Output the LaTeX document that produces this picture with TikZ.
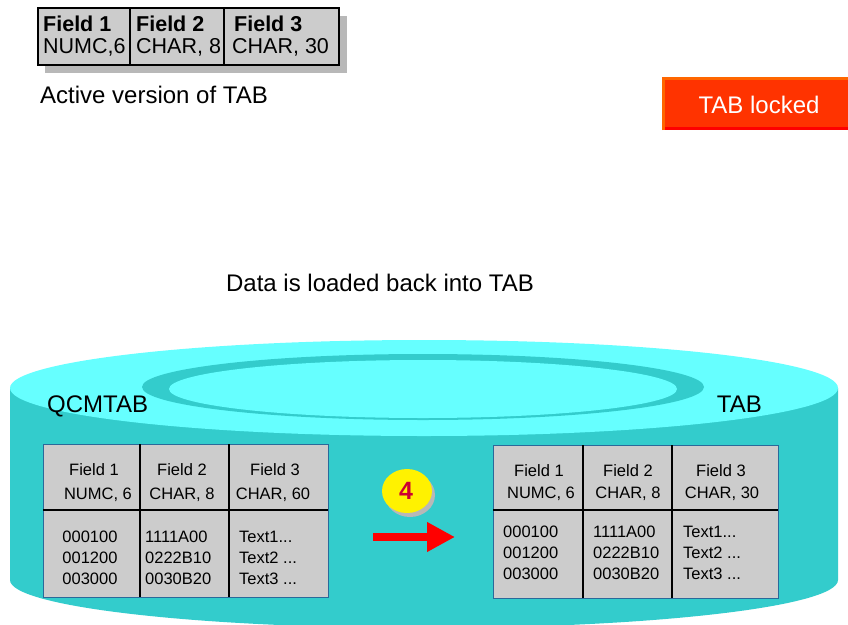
\documentclass[tikz,border=0pt]{standalone}
\usepackage{fontspec}
\setmainfont{Liberation Sans}
\usetikzlibrary{arrows.meta}

\definecolor{cyanlight}{HTML}{66FFFF}
\definecolor{cyandark}{HTML}{33CCCC}
\definecolor{cellgray}{HTML}{CCCCCC}
\definecolor{shadowgray}{HTML}{B8B8B8}
\definecolor{tableedge}{HTML}{2A6A9A}
\definecolor{lockfill}{HTML}{FF3300}
\definecolor{lockedge}{HTML}{FF6600}
\definecolor{stepnum}{HTML}{CC0033}

\tikzset{
  cellc/.style={font=\fontsize{16.5}{19}\selectfont, inner sep=0pt, anchor=base},
  celll/.style={font=\fontsize{16.5}{19}\selectfont, inner sep=0pt, anchor=base west},
  headtxt/.style={font=\fontsize{21.5}{25}\selectfont, inner sep=0pt, anchor=base west},
  bigtxt/.style={font=\fontsize{24}{28}\selectfont, inner sep=0pt},
  tablebox/.style={draw=tableedge, line width=1.2pt, fill=cellgray, anchor=north west,
                   inner sep=0pt, minimum width=285pt, minimum height=153pt},
  divider/.style={draw=black, line width=1.2pt},
}

\begin{document}
\begin{tikzpicture}[x=1pt, y=-1pt]
\useasboundingbox (0,0) rectangle (848,624);
\fill[white] (0,0) rectangle (848,624);

% ---- active table definition (top left) ----
\fill[shadowgray] (45,16) rectangle (347,73);
\node[draw=black, line width=1.5pt, fill=cellgray, anchor=north west, inner sep=0pt,
      minimum width=301pt, minimum height=57pt] (activetab) at (37,7) {};
\draw[divider] (130,7) -- (130,64);
\draw[divider] (224,7) -- (224,64);
\node[headtxt] (a1h) at (43,31) {\bfseries Field 1};
\node[headtxt] (a1t) at (43,53) {NUMC,6};
\node[headtxt] (a2h) at (136,31) {\bfseries Field 2};
\node[headtxt] (a2t) at (136,53) {CHAR, 8};
\node[headtxt] (a3h) at (234,31) {\bfseries Field 3};
\node[headtxt] (a3t) at (232,53) {CHAR, 30};
\node[bigtxt, anchor=base west] (activecap) at (40,103) {Active version of TAB};

% ---- lock indicator ----
\node[fill=lockfill, anchor=north west, inner sep=0pt, minimum width=186pt,
      minimum height=53pt] (lock) at (662,77) {};
\draw[lockedge, line width=3pt] (663.5,130) -- (663.5,78.5) -- (848,78.5);
\draw[red, line width=3pt] (665,128.5) -- (848,128.5);
\node[bigtxt, text=white] (locktxt) at (759,105) {TAB locked};

% ---- caption ----
\node[bigtxt, anchor=base] (loadcap) at (380,291) {Data is loaded back into TAB};

% ---- database cylinder ----
\fill[cyandark] (10,388) -- (10,580) arc[start angle=180, end angle=0, x radius=414, y radius=48]
                -- (838,388) -- cycle;
\fill[cyanlight] (424,388) ellipse[x radius=414, y radius=48];
\fill[cyandark] (423,387) ellipse[x radius=281, y radius=33];
\fill[cyanlight] (423,389) ellipse[x radius=254, y radius=29];

\node[bigtxt, anchor=base west] (qname) at (47,412) {QCMTAB};
\node[bigtxt, anchor=base east] (tname) at (762,412) {TAB};

% ---- QCMTAB contents ----
\node[tablebox] (qtab) at (43,444) {};
\draw[divider] (140,444) -- (140,597);
\draw[divider] (229,444) -- (229,597);
\draw[divider] (43,510) -- (328,510);
\node[cellc] (q1h) at (94,475) {Field 1};
\node[cellc] (q1t) at (98,499) {NUMC, 6};
\node[cellc] (q2h) at (182,475) {Field 2};
\node[cellc] (q2t) at (182,499) {CHAR, 8};
\node[cellc] (q3h) at (275,475) {Field 3};
\node[cellc] (q3t) at (273,499) {CHAR, 60};
\node[cellc] (q1a) at (90,542) {000100};
\node[cellc] (q1b) at (90,563) {001200};
\node[cellc] (q1c) at (90,584) {003000};
\node[celll] (q2a) at (145,542) {1111A00};
\node[celll] (q2b) at (145,563) {0222B10};
\node[celll] (q2c) at (145,584) {0030B20};
\node[celll] (q3a) at (239,542) {Text1...};
\node[celll] (q3b) at (239,563) {Text2 ...};
\node[celll] (q3c) at (239,584) {Text3 ...};

% ---- TAB contents ----
\node[tablebox] (ttab) at (493,445) {};
\draw[divider] (583,445) -- (583,598);
\draw[divider] (672,445) -- (672,598);
\draw[divider] (493,510) -- (778,510);
\node[cellc] (t1h) at (539,476) {Field 1};
\node[cellc] (t1t) at (541,498) {NUMC, 6};
\node[cellc] (t2h) at (628,476) {Field 2};
\node[cellc] (t2t) at (628,498) {CHAR, 8};
\node[cellc] (t3h) at (721,476) {Field 3};
\node[cellc] (t3t) at (722,498) {CHAR, 30};
\node[celll] (t1a) at (503,537) {000100};
\node[celll] (t1b) at (503,558) {001200};
\node[celll] (t1c) at (503,579) {003000};
\node[celll] (t2a) at (593,537) {1111A00};
\node[celll] (t2b) at (593,558) {0222B10};
\node[celll] (t2c) at (593,579) {0030B20};
\node[celll] (t3a) at (683,537) {Text1...};
\node[celll] (t3b) at (683,558) {Text2 ...};
\node[celll] (t3c) at (683,579) {Text3 ...};

% ---- step marker and copy arrow ----
\fill[shadowgray] (410,495) ellipse[x radius=25, y radius=22];
\fill[yellow] (407,491) ellipse[x radius=25, y radius=22];
\node[font=\fontsize{25}{28}\selectfont\bfseries, text=stepnum, inner sep=0pt] (stepfour) at (406,491) {4};

\coordinate (arrowstart) at (373,537);
\coordinate (arrowend) at (455,537);
\draw[red, line width=8pt, -{Triangle[length=28pt, width=28pt]}] (arrowstart) -- (arrowend);
\end{tikzpicture}
\end{document}
